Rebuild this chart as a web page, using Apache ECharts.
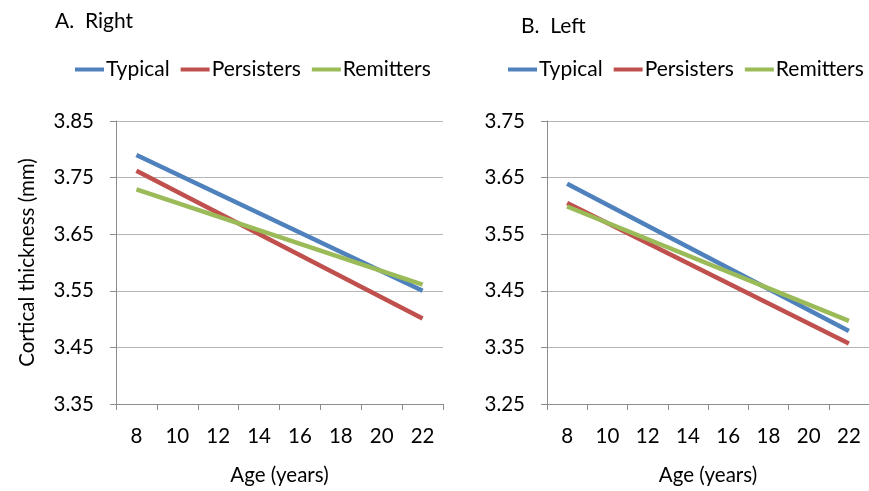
<!DOCTYPE html>
<html>
<head>
<meta charset="utf-8">
<script src="https://cdn.jsdelivr.net/npm/echarts@6/dist/echarts.min.js"></script>
<style>html,body{margin:0;padding:0;background:#fff}#c{width:869px;height:491px}</style>
</head>
<body>
<div id="c"></div>
<script>
var ages = ['8','10','12','14','16','18','20','22'];
var seriesNames = ['Typical','Persisters','Remitters'];
// Right hemisphere (panel A): values at age 8 and age 22
var rightTypical    = [3.79, null, null, null, null, null, null, 3.55];
var rightPersisters = [3.762, null, null, null, null, null, null, 3.501];
var rightRemitters  = [3.729, null, null, null, null, null, null, 3.561];
// Left hemisphere (panel B)
var leftTypical    = [3.639, null, null, null, null, null, null, 3.379];
var leftPersisters = [3.605, null, null, null, null, null, null, 3.357];
var leftRemitters  = [3.599, null, null, null, null, null, null, 3.397];
var yTicksA = [3.35, 3.85, 0.1];
var yTicksB = [3.25, 3.75, 0.1];

var colors = ['#4F81BD', '#C0504D', '#9BBB59'];
var font = 'Lato, "Open Sans", sans-serif';

function xAxis(gi) {
  return {
    type: 'category', gridIndex: gi, data: ages, boundaryGap: true,
    axisLine: {lineStyle: {color: '#8c8c8c', width: 1}},
    axisTick: {show: true, length: 6, alignWithLabel: false, lineStyle: {color: '#8c8c8c'}},
    axisLabel: {color: '#000', fontSize: 20.5, fontFamily: font, margin: 22},
    name: 'Age (years)', nameLocation: 'middle', nameGap: 61,
    nameTextStyle: {color: '#000', fontSize: 20.5, fontFamily: font}
  };
}
function yAxis(gi, t, withName) {
  var a = {
    type: 'value', gridIndex: gi, min: t[0], max: t[1], interval: t[2],
    axisLine: {show: true, lineStyle: {color: '#8c8c8c'}},
    axisTick: {show: true, length: 6, lineStyle: {color: '#8c8c8c'}},
    splitLine: {lineStyle: {color: '#b5b5b5', width: 1}},
    axisLabel: {color: '#000', fontSize: 20.5, fontFamily: font, margin: 22,
      formatter: function (v) { return v.toFixed(2); }}
  };
  if (withName) {
    a.name = 'Cortical thickness (mm)';
    a.nameLocation = 'middle';
    a.nameGap = 78;
    a.nameTextStyle = {color: '#000', fontSize: 20.5, fontFamily: font};
  }
  return a;
}
function line(name, data, xi, ci) {
  return {
    name: name, type: 'line', xAxisIndex: xi, yAxisIndex: xi, data: data,
    connectNulls: true, symbol: 'none', color: colors[ci],
    lineStyle: {width: 4.5, color: colors[ci]}
  };
}

var chart = echarts.init(document.getElementById('c'), null, {renderer: 'canvas'});
chart.setOption({
  animation: false,
  backgroundColor: '#fff',
  title: [
    {text: 'A.  Right', left: 50, top: 6, textStyle: {fontSize: 21, fontWeight: 'normal', color: '#000', fontFamily: font}},
    {text: 'B.  Left', left: 516, top: 11, textStyle: {fontSize: 21, fontWeight: 'normal', color: '#000', fontFamily: font}}
  ],
  legend: [
    {left: 70, top: 54, itemWidth: 29, itemHeight: 4, itemGap: 11, icon: 'rect',
     data: seriesNames.map(function (n) { return {name: n}; }),
     textStyle: {fontSize: 21, fontFamily: font, color: '#000', padding: [0, 0, 0, -3]}},
    {left: 503, top: 54, itemWidth: 29, itemHeight: 4, itemGap: 11, icon: 'rect',
     data: seriesNames.map(function (n) { return {name: n}; }),
     textStyle: {fontSize: 21, fontFamily: font, color: '#000', padding: [0, 0, 0, -3]}}
  ],
  grid: [
    {left: 116, top: 121, width: 327, bottom: 87},
    {left: 547, top: 121, width: 327, bottom: 87}
  ],
  xAxis: [xAxis(0), xAxis(1)],
  yAxis: [yAxis(0, yTicksA, true), yAxis(1, yTicksB, false)],
  series: [
    line('Typical', rightTypical, 0, 0),
    line('Persisters', rightPersisters, 0, 1),
    line('Remitters', rightRemitters, 0, 2),
    line('Typical', leftTypical, 1, 0),
    line('Persisters', leftPersisters, 1, 1),
    line('Remitters', leftRemitters, 1, 2)
  ]
});
</script>
</body>
</html>
